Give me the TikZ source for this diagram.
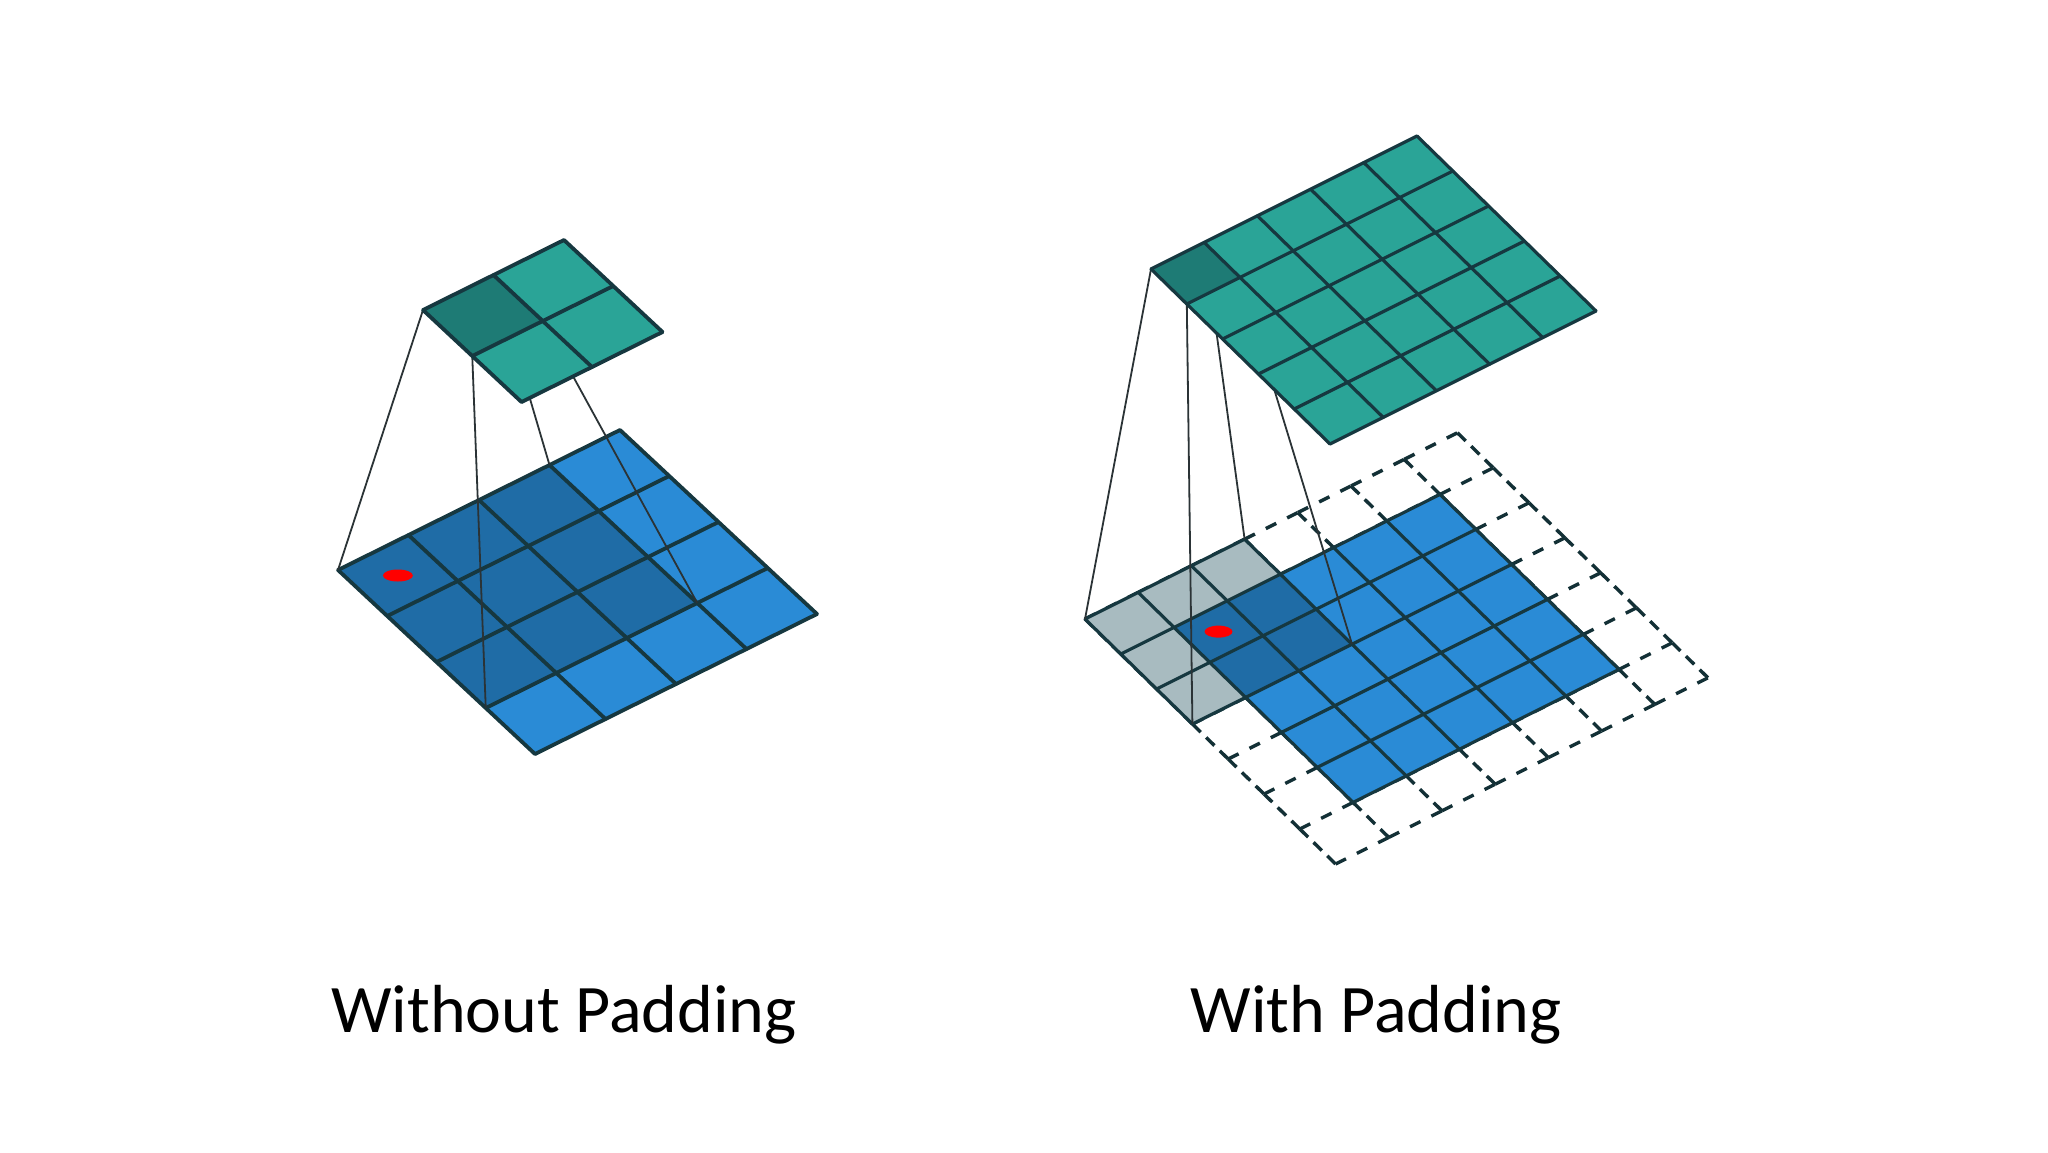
\documentclass[tikz,border=0pt]{standalone}
\usepackage{fontspec}
\setmainfont{Carlito}
\definecolor{tealL}{HTML}{2AA497}
\definecolor{tealD}{HTML}{1E7B75}
\definecolor{blueL}{HTML}{2A8BD6}
\definecolor{blueD}{HTML}{1F6CA6}
\definecolor{padgrey}{HTML}{A8BBC0}
\definecolor{edge}{HTML}{163840}
\definecolor{conn}{HTML}{2B3336}
\tikzset{
  gridline/.style={draw=edge, line width=1.9pt, line join=round, line cap=round},
  gridlinesm/.style={draw=edge, line width=1.6pt, line join=round, line cap=round},
  padlineu/.style={draw=edge!85!black, line width=1.7pt, dash pattern=on 5.8pt off 6.1pt},
  padlinev/.style={draw=edge!85!black, line width=1.7pt, dash pattern=on 5.8pt off 3.8pt},
  connline/.style={draw=conn, line width=0.9pt},
  labeltext/.style={font=\fontsize{34}{40}\selectfont, anchor=base, text=black},
  reddot/.style={fill=red},
}
\begin{document}
\begin{tikzpicture}[x=0.5pt,y=-0.5pt]
\fill[white] (0,0) rectangle (2048,1152);
\useasboundingbox (0,0) rectangle (2048,1152);

% ---------------- Left: without padding ----------------
\begin{scope}[shift={(338,570)}, x={(35.25pt,17.5pt)}, y={(24.625pt,-23pt)}]
  \fill[blueL] (0,0)--(4,0)--(4,4)--(0,4)--cycle;
  \fill[blueD] (0,0)--(3,0)--(3,3)--(0,3)--cycle;
  \foreach \k in {0,...,4} {
    \draw[gridline] (\k,0)--(\k,4);
    \draw[gridline] (0,\k)--(4,\k);
  }
  \coordinate (LB00) at (0,0);
  \coordinate (LB30) at (3,0);
  \coordinate (LB33) at (3,3);
  \coordinate (LB03) at (0,3);
  \coordinate (dotL) at (0.5,0.5);
\end{scope}
\fill[reddot] (dotL) ellipse [x radius=7.5pt, y radius=3pt];

\begin{scope}[shift={(423,310)}, x={(35.25pt,17.5pt)}, y={(24.625pt,-23pt)}]
  \coordinate (LT00) at (0,0);
  \coordinate (LT10) at (1,0);
  \coordinate (LT11) at (1,1);
  \coordinate (LT01) at (0,1);
\end{scope}
\draw[connline] (LT00)--(LB00);
\draw[connline] (LT10)--(LB30);
\draw[connline] (LT11)--(LB33);
\draw[connline] (LT01)--(LB03);

\begin{scope}[shift={(423,310)}, x={(35.25pt,17.5pt)}, y={(24.625pt,-23pt)}]
  \fill[tealL] (0,0)--(2,0)--(2,2)--(0,2)--cycle;
  \fill[tealD] (0,0)--(1,0)--(1,1)--(0,1)--cycle;
  \foreach \k in {0,...,2} {
    \draw[gridline] (\k,0)--(\k,2);
    \draw[gridline] (0,\k)--(2,\k);
  }
\end{scope}

% ---------------- Right: with padding ----------------
\begin{scope}[shift={(1085,619)}, x={(26.6pt,13.3pt)}, y={(17.9pt,-17.5pt)}]
  % dashed padding lattice, every edge drawn once
  \foreach \i in {0,...,6} {
    \foreach \j in {0,...,7} {
      \draw[padlineu] (\i,\j)--(\i+1,\j);
    }
  }
  \foreach \i in {0,...,7} {
    \foreach \j in {0,...,6} {
      \draw[padlinev] (\i,\j)--(\i,\j+1);
    }
  }
  \fill[blueL] (1,1)--(6,1)--(6,6)--(1,6)--cycle;
  \fill[blueD] (1,1)--(3,1)--(3,3)--(1,3)--cycle;
  \fill[padgrey] (0,0)--(3,0)--(3,1)--(1,1)--(1,3)--(0,3)--cycle;
  \foreach \k in {1,...,6} {
    \draw[gridlinesm] (\k,1)--(\k,6);
    \draw[gridlinesm] (1,\k)--(6,\k);
  }
  \draw[gridlinesm] (0,0)--(3,0) (0,1)--(1,1) (0,0)--(0,3) (1,0)--(1,1)
    (2,0)--(2,1) (3,0)--(3,1) (0,2)--(1,2) (0,3)--(1,3);
  \coordinate (RB00) at (0,0);
  \coordinate (RB30) at (3,0);
  \coordinate (RB33) at (3,3);
  \coordinate (RB03) at (0,3);
  \coordinate (dotR) at (1.5,1.5);
\end{scope}
\fill[reddot] (dotR) ellipse [x radius=7pt, y radius=3pt];

\begin{scope}[shift={(1151,269)}, x={(26.6pt,13.3pt)}, y={(17.9pt,-17.5pt)}]
  \coordinate (RT00) at (0,0);
  \coordinate (RT10) at (1,0);
  \coordinate (RT11) at (1,1);
  \coordinate (RT01) at (0,1);
\end{scope}
\draw[connline] (RT00)--(RB00);
\draw[connline] (RT10)--(RB30);
\draw[connline] (RT11)--(RB33);
\draw[connline] (RT01)--(RB03);

\begin{scope}[shift={(1151,269)}, x={(26.6pt,13.3pt)}, y={(17.9pt,-17.5pt)}]
  \fill[tealL] (0,0)--(5,0)--(5,5)--(0,5)--cycle;
  \fill[tealD] (0,0)--(1,0)--(1,1)--(0,1)--cycle;
  \foreach \k in {0,...,5} {
    \draw[gridlinesm] (\k,0)--(\k,5);
    \draw[gridlinesm] (0,\k)--(5,\k);
  }
\end{scope}

% ---------------- Labels ----------------
\node[labeltext] (lblL) at (564,1032) {Without Padding};
\node[labeltext] (lblR) at (1376,1032) {With Padding};
\end{tikzpicture}
\end{document}
